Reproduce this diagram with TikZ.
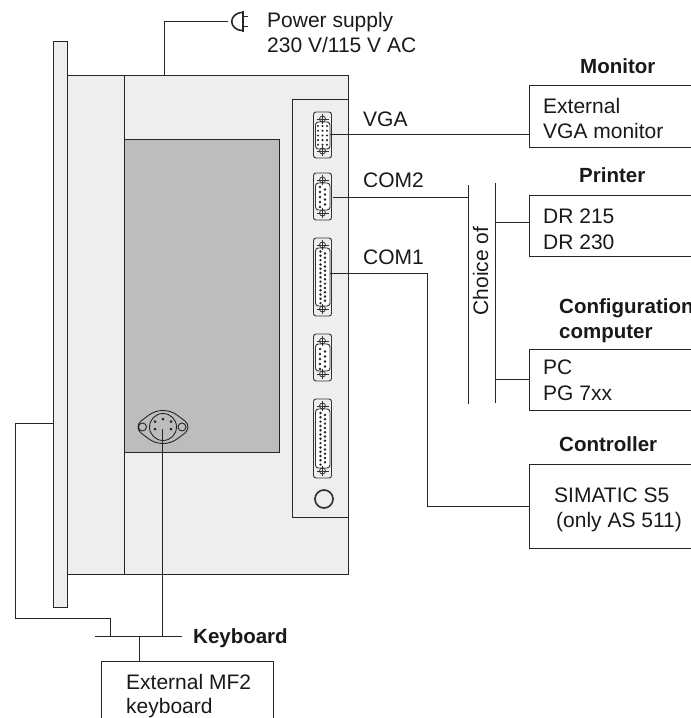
\documentclass[tikz,border=0pt]{standalone}
\usepackage{fontspec}
\setmainfont{Liberation Sans}
\definecolor{bodyg}{HTML}{EEEEEE}
\definecolor{panelg}{HTML}{BDBDBD}
\tikzset{
  x=1pt,y=-1pt,
  wire/.style={line width=1.2pt,black!85},
  part/.style={draw=black!85,line width=1.2pt,fill=bodyg},
  lab/.style={inner sep=0pt,anchor=base west,font=\fontsize{21}{24}\selectfont,text=black!90},
  head/.style={inner sep=0pt,anchor=base west,font=\fontsize{20.5}{24}\selectfont\bfseries,text=black!90},
  dev/.style={draw=black!85,line width=1.2pt,fill=white},
  conn/.style={line width=.9pt,draw=black!80,fill=white},
  pin/.style={circle,fill=black!85,inner sep=0pt,minimum size=2.7pt},
}
\newcommand{\screws}[2]{%
  \draw[line width=.8pt,black!80] (#1,#2) circle (3);
  \draw[line width=.9pt,black!80] (#1-6,#2)--(#1+6,#2) (#1,#2-5)--(#1,#2+5);
}
\newcommand{\dsub}[4]{% ytop, ybot, shelltop, shellbot
  \draw[conn,fill=bodyg,rounded corners=2.5pt] (313.5,#1) rectangle (331.5,#2);
  \draw[conn,rounded corners=3pt] (315.5,#3) rectangle (330,#4);
  \screws{322.5}{#1+7}
  \screws{322.5}{#2-7}
}
\begin{document}
\begin{tikzpicture}
\useasboundingbox (0,0) rectangle (691,718);
% front plate and body
\draw[part] (53.5,41.5) rectangle (67.5,607.5);
\draw[part] (67.5,75.5) rectangle (348.5,574.5);
\draw[part,fill=panelg] (124.5,139.5) rectangle (279.5,452.5);
\draw[part] (124.5,75.5) -- (124.5,574.5);
\draw[part] (292.5,99.5) rectangle (348.5,517.5);
% connectors
\dsub{112}{158}{122}{149}
\foreach \x in {318,322.5,327}{
  \foreach \i in {0,...,4}{\node[pin,minimum size=2.3pt] at (\x,126+\i*4.7) {};}
}
\dsub{173}{220}{183}{210}
\foreach \i in {0,...,4}{\node[pin] at (320,187+\i*5) {};}
\foreach \i in {0,...,3}{\node[pin] at (325,189.5+\i*5) {};}
\dsub{238}{316}{248}{306}
\foreach \i in {0,...,12}{\node[pin] at (320.5,251.5+\i*4.3) {};}
\foreach \i in {0,...,11}{\node[pin] at (325,253.5+\i*4.3) {};}
\dsub{334}{381}{344}{371}
\foreach \i in {0,...,4}{\node[pin] at (320,349+\i*5) {};}
\foreach \i in {0,...,3}{\node[pin] at (325,351.5+\i*5) {};}
\dsub{399}{478}{409}{468}
\foreach \i in {0,...,12}{\node[pin] at (320.5,413+\i*4.3) {};}
\foreach \i in {0,...,11}{\node[pin] at (325,415+\i*4.3) {};}
\draw[line width=1.7pt,black!80,fill=bodyg] (324,499) circle (9);
% keyboard socket
\draw[line width=.9pt,black!85] (149,415) .. controls (157,409) and (169,409) .. (177,415)
  -- (185,421) .. controls (189,424.5) and (189,429.5) .. (185,433)
  -- (177,439) .. controls (169,445) and (157,445) .. (149,439)
  -- (141,433) .. controls (137,429.5) and (137,424.5) .. (141,421) -- cycle;
\draw[line width=.9pt,black!85] (142.5,427) circle (4);
\draw[line width=.9pt,black!85] (182,427) circle (4);
\draw[line width=.9pt,black!85] (163,427) circle (13.5);
\foreach \a/\b in {163/419,155/421.5,171/421.5,155/429,171/429}{\node[pin,minimum size=3pt] at (\a,\b) {};}
% wiring
\coordinate (pw0) at (164.5,75.5);
\coordinate (pw1) at (164.5,21.5);
\coordinate (pw2) at (228,21.5);
\draw[wire] (pw0) -- (pw1) -- (pw2);
\draw[line width=1.6pt,black!85] (243,12.5) .. controls (228,12.5) and (228,30.5) .. (243,30.5);
\draw[line width=1.3pt,black!85] (243,11)-- (243,32) (243,16.5)--(248,16.5) (243,26.5)--(248,26.5);
\node[lab] (power1) at (267,27) {Power supply};
\node[lab] (power2) at (267,52) {230 V/115 V AC};
\node[lab] (lvga) at (363,126) {VGA};
\node[lab] (lcom2) at (363,187) {COM2};
\node[lab] (lcom1) at (363,264) {COM1};
% device boxes
\node[dev,anchor=north west,minimum width=170pt,minimum height=62pt,inner sep=0pt] (mon) at (528.5,84.5) {};
\node[dev,anchor=north west,minimum width=170pt,minimum height=61pt,inner sep=0pt] (prn) at (528.5,194.5) {};
\node[dev,anchor=north west,minimum width=170pt,minimum height=61pt,inner sep=0pt] (cfg) at (528.5,348.5) {};
\node[dev,anchor=north west,minimum width=170pt,minimum height=84pt,inner sep=0pt] (ctl) at (528.5,463.5) {};
\node[dev,anchor=north west,minimum width=172pt,minimum height=70pt,inner sep=0pt] (kbd) at (100.5,660.5) {};
\node[head] (hmon) at (580,73) {Monitor};
\node[head] (hprn) at (579,182) {Printer};
\node[head] (hcfg) at (559,313) {Configuration};
\node[head] (hcfg2) at (559,338) {computer};
\node[head] (hctl) at (559,451) {Controller};
\node[head] (hkbd) at (193,643) {Keyboard};
\node[lab] (t1) at (543,113) {External};
\node[lab] (t2) at (543,138) {VGA monitor};
\node[lab] (t3) at (543,223) {DR 215};
\node[lab] (t4) at (543,249) {DR 230};
\node[lab] (t5) at (543,374) {PC};
\node[lab] (t6) at (543,400) {PG 7xx};
\node[lab] (t7) at (554,502) {SIMATIC S5};
\node[lab] (t8) at (556,527) {(only AS 511)};
\node[lab] (t9) at (126,689) {External MF2};
\node[lab] (t10) at (126,713) {keyboard};
\node[lab,anchor=base,rotate=90] (choice) at (488,271) {Choice of};
% connections
\coordinate (vgaout) at (330,134.5);
\draw[wire] (vgaout) -- (528.5,134.5);
\coordinate (com2out) at (333,197.5);
\coordinate (bus1a) at (468.5,185);
\coordinate (bus1b) at (468.5,404);
\coordinate (bus2a) at (495.5,183);
\coordinate (bus2b) at (495.5,403);
\draw[wire] (bus1a) -- (bus1b);
\draw[wire] (bus2a) -- (bus2b);
\draw[wire] (com2out) -- (468.5,197.5);
\draw[wire] (495.5,222.5) -- (528.5,222.5);
\draw[wire] (495.5,379.5) -- (528.5,379.5);
\coordinate (com1out) at (330,273.5);
\draw[wire] (com1out) -- (427.5,273.5) -- (427.5,506.5) -- (528.5,506.5);
% keyboard wires
\coordinate (kb) at (162.5,429);
\draw[wire] (kb) -- (162.5,636.5);
\draw[wire] (95,636.5) -- (182,636.5);
\draw[wire] (53.5,423.5) -- (15.5,423.5) -- (15.5,618.5) -- (110.5,618.5) -- (110.5,636.5);
\draw[wire] (139.5,636.5) -- (139.5,660.5);
\end{tikzpicture}
\end{document}
